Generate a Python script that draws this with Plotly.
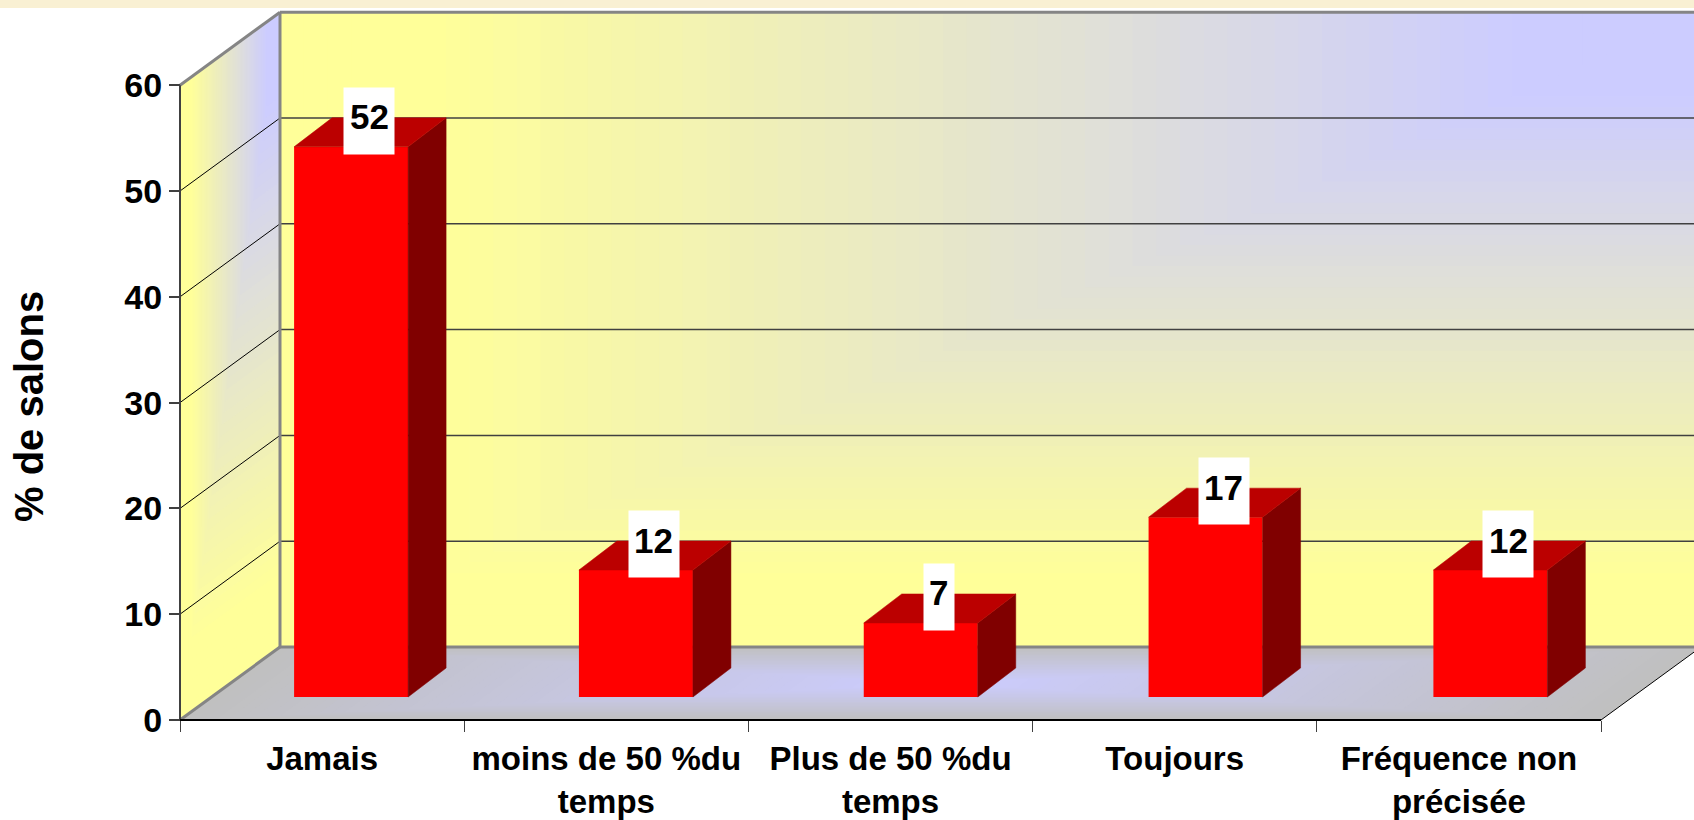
import plotly.graph_objects as go

categories = ["Jamais", "moins de 50 %du<br>temps", "Plus de 50 %du<br>temps", "Toujours", "Fréquence non<br>précisée"]
values = [52, 12, 7, 17, 12]
y_ticks = [0, 10, 20, 30, 40, 50, 60]
y_title = "% de salons"

W, H = 1694, 820
PX_X0, PX_Y0 = 180.0, 720.0        # pixel of the chart origin
PX_CAT, PX_UNIT = 284.2, 10.58     # pixels per category / per value unit
YMAX = 60
NCAT = len(categories)
DX, DY = 100 / PX_CAT, 73 / PX_UNIT          # depth of the chart box
BAR_W = 114 / PX_CAT
BAR_SHIFT, BAR_BASE = 29 / PX_CAT, 23 / PX_UNIT
BAR_STEP = 1.0022
BDX, BDY = 38 / PX_CAT, 29 / PX_UNIT         # depth of each bar
LAB_DX, LAB_DY = 18 / PX_CAT, 26 / PX_UNIT

YELLOW, BLUE, GREY = (255, 255, 153), (204, 204, 255), (192, 192, 192)


def mix(a, b, f):
    f = max(0.0, min(1.0, f))
    return "rgb(%d,%d,%d)" % tuple(round(a[i] + (b[i] - a[i]) * f) for i in range(3))


def ramp(t):
    # share of blue on the walls, t=1 at the yellow edges and t=0 at the blue corner
    return (1 - t - 0.10) / 0.76


def poly(points, color):
    d = "M" + "L".join(f"{x:.5f},{y:.5f}" for x, y in points) + "Z"
    return dict(type="path", path=d, xref="x", yref="y", fillcolor=color,
                line=dict(width=0), layer="below")


def seg(x0, y0, x1, y1, color, width):
    return dict(type="line", x0=x0, y0=y0, x1=x1, y1=y1, xref="x", yref="y",
                line=dict(color=color, width=width), layer="below")


shapes = [dict(type="rect", xref="paper", yref="paper", x0=0, x1=1, y0=1 - 8 / H, y1=1,
               fillcolor="#F9F0D3", line=dict(width=0), layer="below")]

LEVELS = 60
# back wall: corner gradient towards the top right
for k in range(LEVELS + 1):
    t = 1 - k / LEVELS
    sl = 1 - t
    xl, xr = DX + sl * NCAT, DX + NCAT
    yt, yb = DY + YMAX, DY + YMAX * (1 - t)
    shapes.append(poly([(xl, yb), (xl, yt), (xr, yt), (xr, yb)], mix(YELLOW, BLUE, ramp(t))))
# left wall: same gradient on the parallelogram
for k in range(LEVELS + 1):
    t = 1 - k / LEVELS
    s0 = 1 - t
    yb = YMAX * (1 - t)
    pts = [(s0 * DX, s0 * DY + yb), (s0 * DX, s0 * DY + YMAX), (DX, DY + YMAX), (DX, DY + yb)]
    shapes.append(poly(pts, mix(YELLOW, BLUE, ramp(t))))
# floor: gradient from the centre
for k in range(LEVELS + 1):
    t = 1 - k / LEVELS
    a, b = 0.5 - t / 2, 0.5 + t / 2
    pts = [(a * NCAT + a * DX, a * DY), (b * NCAT + a * DX, a * DY),
           (b * NCAT + b * DX, b * DY), (a * NCAT + b * DX, b * DY)]
    shapes.append(poly(pts, mix(BLUE, GREY, t)))

# grid lines
for v in y_ticks[1:-1]:
    shapes.append(seg(0, v, DX, v + DY, "#000000", 1))
    shapes.append(seg(DX, v + DY, DX + NCAT, v + DY, "#404040", 1.5))
# box frame
FRAME = "#858585"
shapes += [
    seg(DX, DY + YMAX, DX + NCAT, DY + YMAX, FRAME, 3),
    seg(DX, DY, DX, DY + YMAX, FRAME, 3),
    seg(0, YMAX, DX, DY + YMAX, FRAME, 3),
    seg(DX, DY, DX + NCAT, DY, FRAME, 3),
    seg(0, 0, DX, DY, FRAME, 3),
    seg(0, 0, 0, YMAX, "#404040", 2),
    seg(0, 0, NCAT, 0, "#000000", 2),
    seg(NCAT, 0, NCAT + DX, DY, "#000000", 1),
]

centers = [i * BAR_STEP + 0.5 + BAR_SHIFT for i in range(NCAT)]
plain = [c.replace("<br>", " ") for c in categories]

fig = go.Figure()
fig.add_trace(go.Bar(x=centers, y=values, base=[BAR_BASE] * NCAT, width=[BAR_W] * NCAT,
                     marker=dict(color="#FF0000", line=dict(width=0)),
                     customdata=plain, hovertemplate="%{customdata}: %{y}<extra></extra>"))

for c, v in zip(centers, values):
    l, r = c - BAR_W / 2, c + BAR_W / 2
    bot, top = BAR_BASE, BAR_BASE + v
    fig.add_trace(go.Scatter(x=[r, r + BDX, r + BDX, r, r], y=[bot, bot + BDY, top + BDY, top, bot],
                             mode="lines", fill="toself", fillcolor="#800000",
                             line=dict(color="#800000", width=0.5), hoverinfo="skip"))
    fig.add_trace(go.Scatter(x=[l, r, r + BDX, l + BDX, l], y=[top, top, top + BDY, top + BDY, top],
                             mode="lines", fill="toself", fillcolor="#BB0000",
                             line=dict(color="#BB0000", width=0.5), hoverinfo="skip"))

annotations = []
for c, v in zip(centers, values):
    pos = dict(x=c + LAB_DX, y=BAR_BASE + v + LAB_DY, xref="x", yref="y", showarrow=False,
               xanchor="center", yanchor="middle", borderpad=0)
    annotations.append(dict(text="&nbsp;", bgcolor="#FFFFFF", width=50 if v >= 10 else 30,
                            height=66, font=dict(size=10), **pos))
    annotations.append(dict(text=f"<b>{v}</b>", yshift=4,
                            font=dict(family="Liberation Sans", size=35, color="#000000"), **pos))
annotations.append(dict(x=29 / W, y=1 - 407 / H, xref="paper", yref="paper", text=f"<b>{y_title}</b>",
                        textangle=-90, showarrow=False, xanchor="center", yanchor="middle",
                        font=dict(family="Liberation Sans", size=40, color="#000000")))

x_font = dict(family="Liberation Sans", size=33, color="#000000", weight="bold")
y_font = dict(family="Liberation Sans", size=34, color="#000000", weight="bold")
fig.update_layout(
    width=W, height=H, autosize=False, showlegend=False,
    margin=dict(l=0, r=0, t=0, b=0), paper_bgcolor="#FFFFFF", plot_bgcolor="rgba(0,0,0,0)",
    shapes=shapes, annotations=annotations,
    xaxis=dict(range=[-PX_X0 / PX_CAT, (W - PX_X0) / PX_CAT], domain=[0, 1], anchor="free",
               position=(H - PX_Y0) / H, showgrid=False, zeroline=False, showline=False,
               automargin=False,
               tickmode="array", tickvals=[i + 0.5 for i in range(NCAT)], ticktext=categories,
               ticks="outside", ticklen=9, tickcolor="rgba(0,0,0,0)", tickfont=x_font,
               minor=dict(tickmode="array", tickvals=list(range(NCAT + 1)), ticks="outside",
                          ticklen=11, tickcolor="#404040", tickwidth=1, showgrid=False)),
    yaxis=dict(range=[(PX_Y0 - H) / PX_UNIT, PX_Y0 / PX_UNIT], domain=[0, 1], anchor="free",
               position=PX_X0 / W, showgrid=False, zeroline=False, showline=False,
               automargin=False,
               tickmode="array", tickvals=y_ticks, ticks="outside", ticklen=11,
               tickcolor="#404040", tickwidth=1.5, tickfont=y_font),
)
fig.write_html("out.html", config=dict(displayModeBar=False, responsive=False),
               post_script="document.body.style.margin='0';document.body.style.overflow='hidden';")
